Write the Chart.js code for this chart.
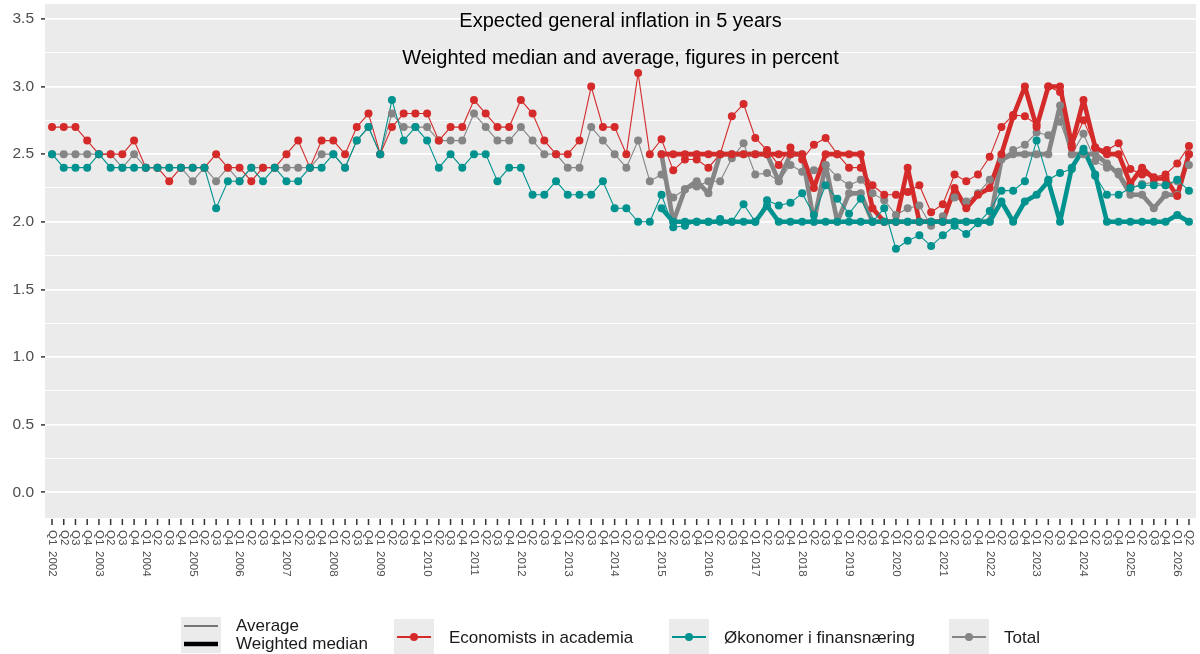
<!DOCTYPE html>
<html>
<head>
<meta charset="utf-8">
<script src="https://cdn.jsdelivr.net/npm/chart.js@4.4.1/dist/chart.umd.min.js"></script>
<style>
  html, body { margin: 0; padding: 0; background: #fff; }
  #wrap { width: 1200px; height: 654px; }
</style>
</head>
<body>
<div id="wrap"><canvas id="inflationChart" width="1200" height="654"></canvas></div>
<script>
// quarters Q1 2002 .. Q2 2026
const years = [2002, 2003, 2004, 2005, 2006, 2007, 2008, 2009, 2010, 2011, 2012, 2013,
               2014, 2015, 2016, 2017, 2018, 2019, 2020, 2021, 2022, 2023, 2024, 2025, 2026];
const quarterNames = ['Q1', 'Q2', 'Q3', 'Q4'];
const lastYearQuarters = 2;

const quarters = [];
years.forEach((y, yi) => {
    const n = yi === years.length - 1 ? lastYearQuarters : 4;
    for (let q = 0; q < n; q++) quarters.push({ q: quarterNames[q], year: y });
});

// average, all quarters
const academiaAvg = [
    2.7, 2.7, 2.7, 2.6, 2.5, 2.5, 2.5, 2.6, 2.4, 2.4,
    2.3, 2.4, 2.4, 2.4, 2.5, 2.4, 2.4, 2.3, 2.4, 2.4,
    2.5, 2.6, 2.4, 2.6, 2.6, 2.5, 2.7, 2.8, 2.5, 2.7,
    2.8, 2.8, 2.8, 2.6, 2.7, 2.7, 2.9, 2.8, 2.7, 2.7,
    2.9, 2.8, 2.6, 2.5, 2.5, 2.6, 3.0, 2.7, 2.7, 2.5,
    3.1, 2.5, 2.61, 2.38, 2.46, 2.46, 2.4, 2.5, 2.78, 2.87,
    2.62, 2.53, 2.42, 2.55, 2.46, 2.57, 2.62, 2.5, 2.4, 2.4,
    2.27, 2.2, 2.2, 2.22, 2.27, 2.07, 2.13, 2.35, 2.3, 2.35,
    2.48, 2.7, 2.79, 2.78, 2.72, 3.0, 2.96, 2.55, 2.75, 2.55,
    2.53, 2.58, 2.39, 2.35, 2.33, 2.35, 2.43, 2.56
];
const financeAvg = [
    2.5, 2.4, 2.4, 2.4, 2.5, 2.4, 2.4, 2.4, 2.4, 2.4,
    2.4, 2.4, 2.4, 2.4, 2.1, 2.3, 2.3, 2.4, 2.3, 2.4,
    2.3, 2.3, 2.4, 2.4, 2.5, 2.4, 2.6, 2.7, 2.5, 2.9,
    2.6, 2.7, 2.6, 2.4, 2.5, 2.4, 2.5, 2.5, 2.3, 2.4,
    2.4, 2.2, 2.2, 2.3, 2.2, 2.2, 2.2, 2.3, 2.1, 2.1,
    2.0, 2.0, 2.2, 1.96, 1.97, 2.0, 2.0, 2.02, 2.0, 2.13,
    2.0, 2.16, 2.12, 2.14, 2.21, 2.05, 2.27, 2.17, 2.06, 2.17,
    2.0, 2.1, 1.8, 1.86, 1.9, 1.82, 1.9, 1.97, 1.91, 1.99,
    2.08, 2.23, 2.23, 2.3, 2.6, 2.31, 2.36, 2.39, 2.52, 2.34,
    2.2, 2.2, 2.25, 2.27, 2.27, 2.27, 2.31, 2.23
];
const totalAvg = [
    2.5, 2.5, 2.5, 2.5, 2.5, 2.5, 2.4, 2.5, 2.4, 2.4,
    2.4, 2.4, 2.3, 2.4, 2.3, 2.4, 2.3, 2.4, 2.4, 2.4,
    2.4, 2.4, 2.4, 2.5, 2.5, 2.4, 2.6, 2.7, 2.5, 2.8,
    2.7, 2.7, 2.7, 2.6, 2.6, 2.6, 2.8, 2.7, 2.6, 2.6,
    2.7, 2.6, 2.5, 2.5, 2.4, 2.4, 2.7, 2.6, 2.5, 2.4,
    2.6, 2.3, 2.35, 2.18, 2.24, 2.26, 2.3, 2.3, 2.47, 2.58,
    2.35, 2.36, 2.3, 2.42, 2.37, 2.38, 2.42, 2.33, 2.27, 2.31,
    2.21, 2.16, 2.05, 2.1, 2.12, 1.97, 2.04, 2.18, 2.15, 2.21,
    2.31, 2.47, 2.53, 2.57, 2.66, 2.64, 2.74, 2.5, 2.65, 2.45,
    2.4, 2.37, 2.25, 2.28, 2.29, 2.27, 2.3, 2.42
];

// weighted median, from Q1 2015
const medianStart = { q: 'Q1', year: 2015 };
const academiaMedian = [
    2.5, 2.5, 2.5, 2.5, 2.5, 2.5, 2.5, 2.5, 2.5, 2.5,
    2.5, 2.5, 2.5, 2.25, 2.5, 2.5, 2.5, 2.5, 2.1, 2.0,
    2.0, 2.4, 2.0, 2.0, 2.0, 2.25, 2.1, 2.2, 2.25, 2.5,
    2.78, 3.0, 2.7, 3.0, 3.0, 2.57, 2.9, 2.55, 2.5, 2.5,
    2.28, 2.4, 2.32, 2.32, 2.19, 2.5
];
const financeMedian = [
    2.1, 2.0, 2.0, 2.0, 2.0, 2.0, 2.0, 2.0, 2.0, 2.12,
    2.0, 2.0, 2.0, 2.0, 2.0, 2.0, 2.0, 2.0, 2.0, 2.0,
    2.0, 2.0, 2.0, 2.0, 2.0, 2.0, 2.0, 2.0, 2.0, 2.15,
    2.0, 2.15, 2.2, 2.3, 2.0, 2.4, 2.54, 2.35, 2.0, 2.0,
    2.0, 2.0, 2.0, 2.0, 2.05, 2.0
];
const totalMedian = [
    2.5, 2.0, 2.24, 2.3, 2.21, 2.5, 2.5, 2.5, 2.5, 2.5,
    2.3, 2.5, 2.5, 2.0, 2.42, 2.0, 2.21, 2.21, 2.0, 2.0,
    2.0, 2.0, 2.0, 2.0, 2.0, 2.0, 2.0, 2.0, 2.0, 2.46,
    2.5, 2.5, 2.5, 2.5, 2.86, 2.5, 2.5, 2.5, 2.43, 2.35,
    2.2, 2.2, 2.1, 2.2, 2.2, 2.5
];

const yMajor = [0, 0.5, 1, 1.5, 2, 2.5, 3, 3.5];
const yMinor = [0.25, 0.75, 1.25, 1.75, 2.25, 2.75, 3.25];

const titleLines = ['Expected general inflation in 5 years', 'Weighted median and average, figures in percent'];
const groupNames = ['Economists in academia', 'Økonomer i finansnæring', 'Total'];
const groupColors = ['#D42A2A', '#00928E', '#858585'];
const sizeNames = ['Average', 'Weighted median'];

const FONT = '"Liberation Sans", Arial, sans-serif';
const THIN = 1.1, THICK = 4.6, DOT = 4;

const startIdx = quarters.findIndex(d => d.q === medianStart.q && d.year === medianStart.year);

function series(values, start) {
    return values.map((v, k) => ({ x: start + k, y: v }));
}

const avgSets = [academiaAvg, financeAvg, totalAvg];
const medSets = [academiaMedian, financeMedian, totalMedian];

// lines first (bottom), then points; teal under red under gray
const drawRank = [1, 2, 0]; // teal lowest
const datasets = [];
[0, 1, 2].forEach(g => {
    const r = drawRank[g];
    datasets.push({
        label: groupNames[g] + ' avg line', data: series(avgSets[g], 0),
        borderColor: groupColors[g], borderWidth: THIN, pointRadius: 0, order: 20 - r * 2
    });
    datasets.push({
        label: groupNames[g] + ' median line', data: series(medSets[g], startIdx),
        borderColor: groupColors[g], borderWidth: THICK, pointRadius: 0, order: 19 - r * 2,
        borderJoinStyle: 'round', borderCapStyle: 'round'
    });
    datasets.push({
        label: groupNames[g] + ' avg pts', data: series(avgSets[g], 0), showLine: false,
        pointRadius: DOT, pointBackgroundColor: groupColors[g], pointBorderWidth: 0, order: 10 - r * 2
    });
    datasets.push({
        label: groupNames[g] + ' median pts', data: series(medSets[g], startIdx), showLine: false,
        pointRadius: DOT, pointBackgroundColor: groupColors[g], pointBorderWidth: 0, order: 9 - r * 2
    });
});

const panelPlugin = {
    id: 'panel',
    beforeDraw(chart) {
        const { ctx, chartArea: a } = chart;
        ctx.save();
        ctx.fillStyle = '#FFFFFF';
        ctx.fillRect(0, 0, chart.width, chart.height);
        ctx.fillStyle = '#EBEBEB';
        ctx.fillRect(a.left, a.top, a.right - a.left, a.bottom - a.top);
        ctx.restore();
    },
    afterDraw(chart) {
        const { ctx, chartArea: a } = chart;
        const xs = chart.scales.x;
        ctx.save();

        // x ticks + rotated labels
        ctx.strokeStyle = '#333333';
        ctx.lineWidth = 1.5;
        ctx.fillStyle = '#4D4D4D';
        ctx.font = '11.5px ' + FONT;
        ctx.textAlign = 'left';
        ctx.textBaseline = 'middle';
        quarters.forEach((d, i) => {
            const x = xs.getPixelForValue(i);
            ctx.beginPath();
            ctx.moveTo(x, a.bottom + 1);
            ctx.lineTo(x, a.bottom + 7);
            ctx.stroke();
            ctx.save();
            ctx.translate(x, a.bottom + 12);
            ctx.rotate(Math.PI / 2);
            ctx.fillText(d.q, 0, 0);
            if (d.q === 'Q1') ctx.fillText(String(d.year), 21, 0);
            ctx.restore();
        });

        // titles inside panel
        ctx.fillStyle = '#000000';
        ctx.font = '20px ' + FONT;
        ctx.textAlign = 'center';
        const cx = (a.left + a.right) / 2;
        ctx.fillText(titleLines[0], cx, 21);
        ctx.fillText(titleLines[1], cx, 58);

        // legend: line sizes
        ctx.textAlign = 'left';
        ctx.font = '17px ' + FONT;
        ctx.fillStyle = '#EBEBEB';
        ctx.fillRect(181, 617, 40, 18);
        ctx.fillRect(181, 635, 40, 18);
        ctx.strokeStyle = '#000000';
        ctx.lineWidth = 1;
        ctx.beginPath(); ctx.moveTo(184, 626); ctx.lineTo(218, 626); ctx.stroke();
        ctx.lineWidth = 4.6;
        ctx.beginPath(); ctx.moveTo(184, 644); ctx.lineTo(218, 644); ctx.stroke();
        ctx.fillStyle = '#1A1A1A';
        ctx.fillText(sizeNames[0], 236, 626);
        ctx.fillText(sizeNames[1], 236, 644);

        // legend: groups
        const boxX = [394, 669, 949];
        groupNames.forEach((name, g) => {
            const bx = boxX[g];
            ctx.fillStyle = '#EBEBEB';
            ctx.fillRect(bx, 619, 40, 36);
            ctx.strokeStyle = groupColors[g];
            ctx.lineWidth = 2;
            ctx.beginPath(); ctx.moveTo(bx + 3, 637); ctx.lineTo(bx + 37, 637); ctx.stroke();
            ctx.fillStyle = groupColors[g];
            ctx.beginPath(); ctx.arc(bx + 20, 637, DOT, 0, Math.PI * 2); ctx.fill();
            ctx.fillStyle = '#1A1A1A';
            ctx.fillText(name, bx + 55, 638);
        });
        ctx.restore();
    }
};

const isMajor = v => yMajor.some(m => Math.abs(m - v) < 1e-6);

new Chart(document.getElementById('inflationChart'), {
    type: 'line',
    data: { datasets },
    options: {
        responsive: false,
        animation: false,
        devicePixelRatio: 1,
        layout: { padding: { top: 4, right: 3, bottom: 56, left: 0 } },
        plugins: { legend: { display: false }, tooltip: { enabled: false } },
        scales: {
            x: {
                type: 'linear',
                min: -0.6,
                max: quarters.length - 1 + 0.6,
                afterBuildTicks: s => { s.ticks = quarters.map((d, i) => ({ value: i })); },
                afterFit: s => { s.height = 80; s.paddingLeft = 0; s.paddingRight = 0; },
                ticks: { display: false },
                grid: { display: false },
                border: { display: false }
            },
            y: {
                min: -0.19,
                max: 3.61,
                afterBuildTicks: s => {
                    s.ticks = yMajor.concat(yMinor).sort((p, q) => p - q).map(v => ({ value: v }));
                },
                afterFit: s => { s.width = 45; s.paddingTop = 0; s.paddingBottom = 0; },
                ticks: {
                    padding: 7,
                    color: '#4D4D4D',
                    font: { family: FONT, size: 15.5 },
                    callback: v => isMajor(v) ? v.toFixed(1) : ''
                },
                grid: {
                    color: '#FFFFFF',
                    lineWidth: c => isMajor(c.tick.value) ? 1.8 : 0.9,
                    drawTicks: true,
                    tickLength: 4,
                    tickWidth: 1.5,
                    tickColor: c => isMajor(c.tick.value) ? '#333333' : 'rgba(0,0,0,0)'
                },
                border: { display: false }
            }
        }
    },
    plugins: [panelPlugin]
});
</script>
</body>
</html>
